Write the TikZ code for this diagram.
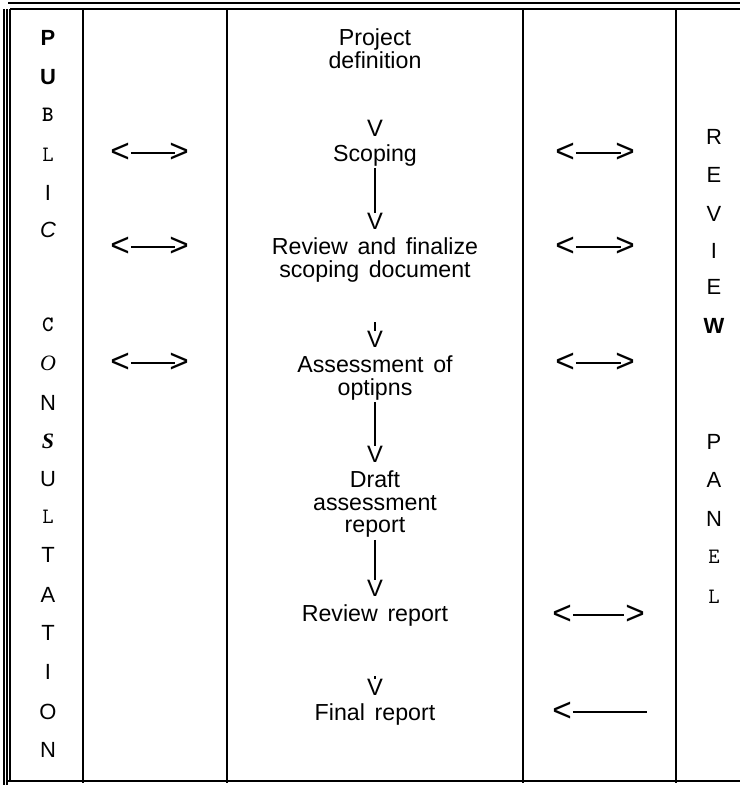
\documentclass[tikz,border=0pt]{standalone}
\usepackage{fontspec}
\setmainfont[WordSpace=1.5]{Liberation Sans}
\newfontfamily\timesfont{Liberation Serif}
\usetikzlibrary{positioning}
\lineskiplimit=-20pt
\tikzstyle{stage} = [align=center, inner sep=1pt, font=\fontsize{13.2}{13}\selectfont]
\tikzstyle{vee} = [inner sep=0pt, anchor=north, font=\fontsize{13.5}{13}\selectfont]
\tikzstyle{letter} = [inner sep=0pt, font=\fontsize{12.5}{14}\selectfont]
\tikzstyle{chev} = [inner sep=0.5pt, font=\fontsize{19}{19}\selectfont]
\tikzstyle{link} = [line width=1.3pt, shorten >=-4pt]
\tikzstyle{thinlink} = [line width=0.6pt]
\tikzstyle{flow} = [line width=0.8pt]
\tikzstyle{rule} = [line width=1pt]

\begin{document}
\begin{tikzpicture}[x=0.02cm, y=-0.02cm, node distance=3pt]
\useasboundingbox (0,0) rectangle (750,785);

% --- Frame ---
\draw [thinlink] (8,3) -- (740,3);
\draw [rule] (10,9) -- (740,9);
\draw [thinlink] (4,9) -- (4,785);
\draw [thinlink] (7,9) -- (7,785);
\draw [rule] (10,9) -- (10,781);
\draw [rule] (7,781) -- (740,781);
\draw [rule] (83,9) -- (83,783);
\draw [rule] (227,9) -- (227,783);
\draw [rule] (523,9) -- (523,783);
\draw [rule] (676,9) -- (676,783);

% --- Public consultation ---
\node (p1) [letter] at (48,38) {\textbf{P}};
\node (p2) [letter] at (48,77) {\textbf{U}};
\node (p3) [letter] at (48,115) {\ttfamily\bfseries B};
\node (p4) [letter] at (48,155) {\ttfamily L};
\node (p5) [letter] at (48,193) {I};
\node (p6) [letter] at (48,230) {\textit{C}};
\node (c1) [letter] at (48,325) {\ttfamily\bfseries C};
\node (c2) [letter] at (48,363) {\timesfont\itshape O};
\node (c3) [letter] at (48,403) {N};
\node (c4) [letter] at (48,441) {\timesfont\bfseries\itshape S};
\node (c5) [letter] at (48,479) {U};
\node (c6) [letter] at (48,517) {\ttfamily L};
\node (c7) [letter] at (48,555) {T};
\node (c8) [letter] at (48,595) {A};
\node (c9) [letter] at (48,633) {T};
\node (c10) [letter] at (48,672) {I};
\node (c11) [letter] at (48,712) {O};
\node (c12) [letter] at (48,750) {N};

% --- Review panel ---
\node (r1) [letter] at (714,137) {R};
\node (r2) [letter] at (714,175) {E};
\node (r3) [letter] at (714,214) {V};
\node (r4) [letter] at (714,251) {I};
\node (r5) [letter] at (714,287) {E};
\node (r6) [letter] at (714,326) {\textbf{W}};
\node (n1) [letter] at (714,442) {P};
\node (n2) [letter] at (714,480) {A};
\node (n3) [letter] at (714,519) {N};
\node (n4) [letter] at (714,557) {\ttfamily E};
\node (n5) [letter] at (714,597) {\ttfamily L};

% --- Stages ---
\node (proj) [stage, anchor=north] at (375,27) {Project\\definition};
\node (v1) [vee] at (375,120) {V};
\node (scope) [stage, below=of v1] {Scoping};
\node (v2) [vee] at (375,213) {V};
\node (finalize) [stage, below=of v2] {Review and finalize\\scoping document};
\node (v3) [vee] at (375,331) {V};
\node (options) [stage, below=of v3] {Assessment of\\optipns};
\node (v4) [vee] at (375,446) {V};
\node (draft) [stage, below=of v4] {Draft\\assessment\\report};
\node (v5) [vee] at (375,580) {V};
\node (review) [stage, below=of v5] {Review report};
\node (v6) [vee] at (375,679) {V};
\node (final) [stage, below=of v6] {Final report};

\coordinate (t3) at (375,322);
\coordinate (t6) at (375,676);
\draw [flow] (scope) -- (v2.north);
\draw [flow] (t3) -- (v3.north);
\draw [flow] (options) -- (v4.north);
\draw [flow] (draft) -- (v5.north);
\draw [flow] (t6) -- (v6.north);

% --- Two-way links ---
\node (lpub1) [chev] at (120,153) {<};
\node (rpub1) [chev] at (179,153) {>};
\node (lpub2) [chev] at (120,247) {<};
\node (rpub2) [chev] at (179,247) {>};
\node (lpub3) [chev] at (120,363) {<};
\node (rpub3) [chev] at (179,363) {>};
\node (lrev1) [chev] at (565,153) {<};
\node (rrev1) [chev] at (625,153) {>};
\node (lrev2) [chev] at (565,247) {<};
\node (rrev2) [chev] at (625,247) {>};
\node (lrev3) [chev] at (565,363) {<};
\node (rrev3) [chev] at (625,363) {>};
\node (lrev4) [chev] at (562,615) {<};
\node (rrev4) [chev] at (635,615) {>};
\node (lrev5) [chev] at (562,712) {<};
\coordinate (erev5) at (647,712);

\draw [link] (lpub1) -- (rpub1);
\draw [link] (lpub2) -- (rpub2);
\draw [link] (lpub3) -- (rpub3);
\draw [link] (lrev1) -- (rrev1);
\draw [link] (lrev2) -- (rrev2);
\draw [link] (lrev3) -- (rrev3);
\draw [thinlink] (lrev4) -- (rrev4);
\draw [thinlink] (lrev5) -- (erev5);

\end{tikzpicture}
\end{document}
